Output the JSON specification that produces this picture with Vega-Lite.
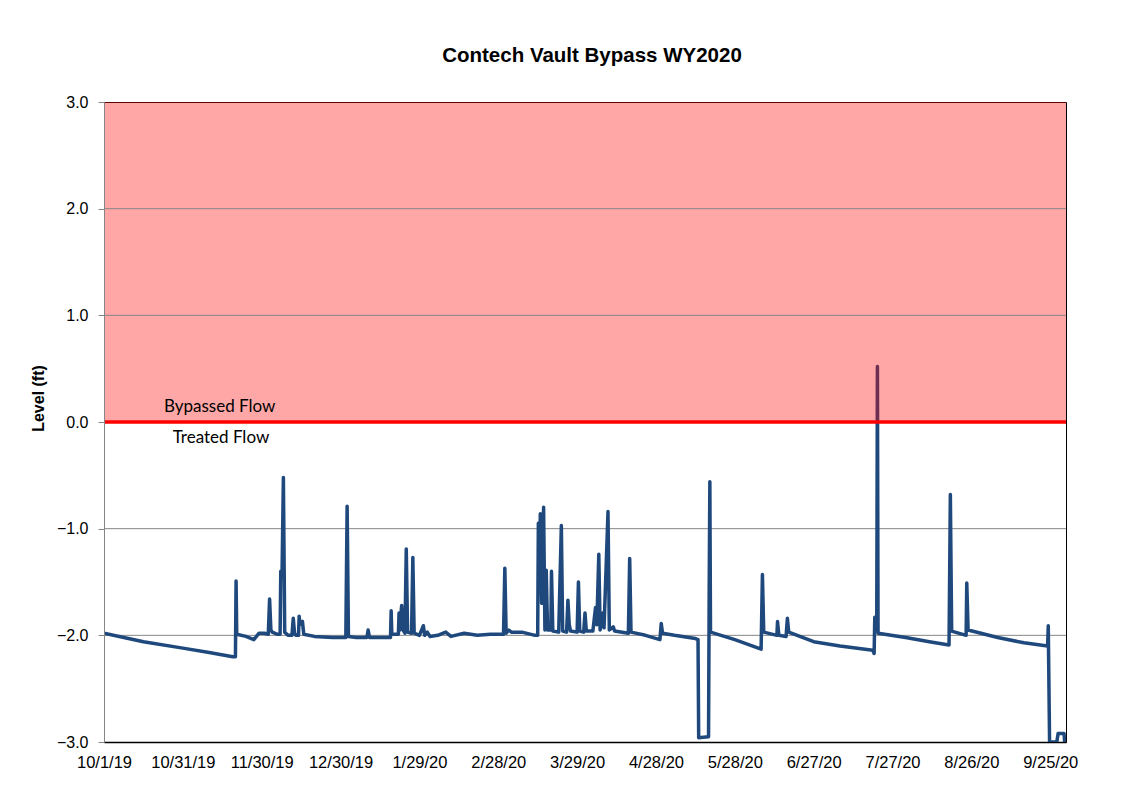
{
  "$schema": "https://vega.github.io/schema/vega-lite/v6.json",
  "width": 962,
  "height": 640,
  "autosize": "none",
  "padding": {"left": 104, "top": 102, "right": 79, "bottom": 45},
  "background": "white",
  "config": {
    "view": {"stroke": "black", "strokeWidth": 1},
    "font": "Liberation Sans"
  },
  "title": {
    "text": "Contech Vault Bypass WY2020",
    "font": "Liberation Sans",
    "fontSize": 20.5,
    "fontWeight": "bold",
    "color": "black",
    "anchor": "middle",
    "dx": 7,
    "offset": 28
  },
  "datasets": {
    "zone": [{"lo": 0, "hi": 3}],
    "gridlow": [{"g": -2}, {"g": -1}],
    "gridhigh": [{"g": 1}, {"g": 2}],
    "zero": [{"z": 0}],
    "labels": [
      {"d": "2019-11-14T00:00", "v": 0.14, "t": "Bypassed Flow"},
      {"d": "2019-11-14T12:00", "v": -0.15, "t": "Treated Flow"}
    ],
    "level": [
      {"d": "2019-10-01T00:00", "v": -1.98},
      {"d": "2019-10-16T00:00", "v": -2.06},
      {"d": "2019-10-31T00:00", "v": -2.12},
      {"d": "2019-11-10T00:00", "v": -2.16},
      {"d": "2019-11-19T00:00", "v": -2.2},
      {"d": "2019-11-20T00:00", "v": -2.2},
      {"d": "2019-11-20T06:00", "v": -1.49},
      {"d": "2019-11-20T12:00", "v": -1.99},
      {"d": "2019-11-24T00:00", "v": -2.01},
      {"d": "2019-11-27T00:00", "v": -2.04},
      {"d": "2019-11-28T00:00", "v": -2.01},
      {"d": "2019-11-29T00:00", "v": -1.98},
      {"d": "2019-12-01T00:00", "v": -1.98},
      {"d": "2019-12-02T12:00", "v": -1.99},
      {"d": "2019-12-03T00:00", "v": -1.66},
      {"d": "2019-12-03T12:00", "v": -1.95},
      {"d": "2019-12-04T00:00", "v": -1.97},
      {"d": "2019-12-06T00:00", "v": -1.99},
      {"d": "2019-12-07T00:00", "v": -1.99},
      {"d": "2019-12-07T06:00", "v": -1.4},
      {"d": "2019-12-07T18:00", "v": -1.4},
      {"d": "2019-12-08T06:00", "v": -0.52},
      {"d": "2019-12-08T18:00", "v": -1.97},
      {"d": "2019-12-10T00:00", "v": -2.0},
      {"d": "2019-12-11T12:00", "v": -2.0},
      {"d": "2019-12-12T00:00", "v": -1.84},
      {"d": "2019-12-12T12:00", "v": -1.98},
      {"d": "2019-12-13T00:00", "v": -2.0},
      {"d": "2019-12-14T00:00", "v": -2.0},
      {"d": "2019-12-14T06:00", "v": -1.82},
      {"d": "2019-12-14T12:00", "v": -1.9},
      {"d": "2019-12-15T12:00", "v": -1.87},
      {"d": "2019-12-16T00:00", "v": -1.99},
      {"d": "2019-12-20T00:00", "v": -2.01},
      {"d": "2019-12-27T00:00", "v": -2.02},
      {"d": "2020-01-01T00:00", "v": -2.02},
      {"d": "2020-01-01T12:00", "v": -0.79},
      {"d": "2020-01-02T00:00", "v": -2.01},
      {"d": "2020-01-05T00:00", "v": -2.02},
      {"d": "2020-01-09T00:00", "v": -2.02},
      {"d": "2020-01-09T12:00", "v": -1.95},
      {"d": "2020-01-10T00:00", "v": -2.02},
      {"d": "2020-01-18T00:00", "v": -2.02},
      {"d": "2020-01-18T06:00", "v": -1.77},
      {"d": "2020-01-18T12:00", "v": -1.99},
      {"d": "2020-01-20T00:00", "v": -1.99},
      {"d": "2020-01-21T00:00", "v": -1.99},
      {"d": "2020-01-21T06:00", "v": -1.79},
      {"d": "2020-01-21T12:00", "v": -1.95},
      {"d": "2020-01-22T06:00", "v": -1.72},
      {"d": "2020-01-22T18:00", "v": -1.95},
      {"d": "2020-01-23T12:00", "v": -1.98},
      {"d": "2020-01-24T00:00", "v": -1.19},
      {"d": "2020-01-24T12:00", "v": -1.97},
      {"d": "2020-01-26T00:00", "v": -1.98},
      {"d": "2020-01-26T12:00", "v": -1.27},
      {"d": "2020-01-27T00:00", "v": -1.98},
      {"d": "2020-01-29T00:00", "v": -2.0},
      {"d": "2020-01-30T12:00", "v": -1.91},
      {"d": "2020-01-31T00:00", "v": -2.0},
      {"d": "2020-02-01T00:00", "v": -1.97},
      {"d": "2020-02-02T00:00", "v": -2.01},
      {"d": "2020-02-05T00:00", "v": -2.0},
      {"d": "2020-02-08T00:00", "v": -1.97},
      {"d": "2020-02-10T00:00", "v": -2.01},
      {"d": "2020-02-15T00:00", "v": -1.98},
      {"d": "2020-02-20T00:00", "v": -2.0},
      {"d": "2020-02-25T00:00", "v": -1.99},
      {"d": "2020-03-01T00:00", "v": -1.99},
      {"d": "2020-03-01T12:00", "v": -1.37},
      {"d": "2020-03-02T00:00", "v": -1.98},
      {"d": "2020-03-03T00:00", "v": -1.95},
      {"d": "2020-03-04T00:00", "v": -1.97},
      {"d": "2020-03-08T00:00", "v": -1.97},
      {"d": "2020-03-13T00:00", "v": -2.0},
      {"d": "2020-03-14T00:00", "v": -2.0},
      {"d": "2020-03-14T06:00", "v": -0.95},
      {"d": "2020-03-14T12:00", "v": -1.6},
      {"d": "2020-03-15T00:00", "v": -0.86},
      {"d": "2020-03-15T12:00", "v": -1.7},
      {"d": "2020-03-16T06:00", "v": -0.8},
      {"d": "2020-03-16T18:00", "v": -1.95},
      {"d": "2020-03-17T06:00", "v": -1.39},
      {"d": "2020-03-17T18:00", "v": -1.95},
      {"d": "2020-03-19T00:00", "v": -1.95},
      {"d": "2020-03-19T06:00", "v": -1.4},
      {"d": "2020-03-19T18:00", "v": -1.96},
      {"d": "2020-03-22T00:00", "v": -1.97},
      {"d": "2020-03-23T00:00", "v": -0.97},
      {"d": "2020-03-23T12:00", "v": -1.96},
      {"d": "2020-03-25T00:00", "v": -1.97},
      {"d": "2020-03-25T12:00", "v": -1.67},
      {"d": "2020-03-26T00:00", "v": -1.9},
      {"d": "2020-03-26T12:00", "v": -1.96},
      {"d": "2020-03-29T00:00", "v": -1.97},
      {"d": "2020-03-29T12:00", "v": -1.5},
      {"d": "2020-03-30T00:00", "v": -1.96},
      {"d": "2020-03-31T12:00", "v": -1.97},
      {"d": "2020-04-01T00:00", "v": -1.79},
      {"d": "2020-04-01T12:00", "v": -1.96},
      {"d": "2020-04-04T00:00", "v": -1.96},
      {"d": "2020-04-05T00:00", "v": -1.74},
      {"d": "2020-04-05T12:00", "v": -1.9},
      {"d": "2020-04-06T06:00", "v": -1.24},
      {"d": "2020-04-06T18:00", "v": -1.95},
      {"d": "2020-04-07T18:00", "v": -1.79},
      {"d": "2020-04-08T06:00", "v": -1.93},
      {"d": "2020-04-09T18:00", "v": -0.84},
      {"d": "2020-04-10T06:00", "v": -1.95},
      {"d": "2020-04-11T18:00", "v": -1.92},
      {"d": "2020-04-12T06:00", "v": -1.96},
      {"d": "2020-04-17T12:00", "v": -1.98},
      {"d": "2020-04-18T00:00", "v": -1.28},
      {"d": "2020-04-18T12:00", "v": -1.97},
      {"d": "2020-04-24T00:00", "v": -2.0},
      {"d": "2020-04-29T12:00", "v": -2.04},
      {"d": "2020-04-30T00:00", "v": -1.89},
      {"d": "2020-04-30T12:00", "v": -1.98},
      {"d": "2020-05-05T00:00", "v": -2.0},
      {"d": "2020-05-13T00:00", "v": -2.03},
      {"d": "2020-05-14T00:00", "v": -2.04},
      {"d": "2020-05-14T06:00", "v": -2.96},
      {"d": "2020-05-18T00:00", "v": -2.95},
      {"d": "2020-05-18T06:00", "v": -1.57},
      {"d": "2020-05-18T12:00", "v": -0.56},
      {"d": "2020-05-18T18:00", "v": -1.97},
      {"d": "2020-05-28T00:00", "v": -2.04},
      {"d": "2020-06-07T00:00", "v": -2.13},
      {"d": "2020-06-07T12:00", "v": -1.43},
      {"d": "2020-06-08T00:00", "v": -1.97},
      {"d": "2020-06-13T00:00", "v": -2.0},
      {"d": "2020-06-13T06:00", "v": -1.87},
      {"d": "2020-06-13T18:00", "v": -2.0},
      {"d": "2020-06-16T12:00", "v": -2.01},
      {"d": "2020-06-17T00:00", "v": -1.84},
      {"d": "2020-06-17T12:00", "v": -1.97},
      {"d": "2020-06-27T00:00", "v": -2.06},
      {"d": "2020-07-07T00:00", "v": -2.1},
      {"d": "2020-07-19T12:00", "v": -2.14},
      {"d": "2020-07-20T00:00", "v": -2.17},
      {"d": "2020-07-20T06:00", "v": -1.83},
      {"d": "2020-07-21T00:00", "v": -1.85},
      {"d": "2020-07-21T06:00", "v": 0.52},
      {"d": "2020-07-21T12:00", "v": -1.98},
      {"d": "2020-08-01T00:00", "v": -2.02},
      {"d": "2020-08-10T00:00", "v": -2.06},
      {"d": "2020-08-17T12:00", "v": -2.09},
      {"d": "2020-08-18T00:00", "v": -0.68},
      {"d": "2020-08-18T12:00", "v": -1.96},
      {"d": "2020-08-24T00:00", "v": -2.0},
      {"d": "2020-08-24T06:00", "v": -1.51},
      {"d": "2020-08-24T18:00", "v": -1.95},
      {"d": "2020-09-05T00:00", "v": -2.02},
      {"d": "2020-09-15T00:00", "v": -2.07},
      {"d": "2020-09-24T00:00", "v": -2.1},
      {"d": "2020-09-24T06:00", "v": -1.91},
      {"d": "2020-09-24T18:00", "v": -3.0},
      {"d": "2020-09-27T12:00", "v": -3.0},
      {"d": "2020-09-28T00:00", "v": -2.92},
      {"d": "2020-09-30T06:00", "v": -2.92},
      {"d": "2020-09-30T12:00", "v": -3.0}
    ]
  },
  "layer": [
    {
      "data": {"name": "gridlow"},
      "mark": {"type": "rule", "color": "#868686", "strokeWidth": 1},
      "encoding": {
        "y": {"field": "g", "type": "quantitative", "scale": {"domain": [-3, 3], "nice": false, "zero": false}}
      }
    },
    {
      "data": {"name": "level"},
      "mark": {"type": "line", "color": "#1F497D", "strokeWidth": 3.5, "clip": true, "strokeJoin": "round", "strokeCap": "round"},
      "encoding": {
        "x": {
          "field": "d",
          "type": "temporal",
          "scale": {"domain": [{"year": 2019, "month": 10, "date": 1}, {"year": 2020, "month": 10, "date": 1}]},
          "axis": {
            "title": null,
            "values": [
              {"year": 2019, "month": 10, "date": 1},
              {"year": 2019, "month": 10, "date": 31},
              {"year": 2019, "month": 11, "date": 30},
              {"year": 2019, "month": 12, "date": 30},
              {"year": 2020, "month": 1, "date": 29},
              {"year": 2020, "month": 2, "date": 28},
              {"year": 2020, "month": 3, "date": 29},
              {"year": 2020, "month": 4, "date": 28},
              {"year": 2020, "month": 5, "date": 28},
              {"year": 2020, "month": 6, "date": 27},
              {"year": 2020, "month": 7, "date": 27},
              {"year": 2020, "month": 8, "date": 26},
              {"year": 2020, "month": 9, "date": 25}
            ],
            "format": "%-m/%-d/%y",
            "grid": false,
            "ticks": false,
            "domainColor": "black",
            "domainWidth": 1.5,
            "labelFont": "Liberation Sans",
            "labelFontSize": 16.5,
            "labelColor": "black",
            "labelPadding": 12,
            "labelFlush": false,
            "labelOverlap": false,
            "labelBound": false
          }
        },
        "y": {
          "field": "v",
          "type": "quantitative",
          "scale": {"domain": [-3, 3], "nice": false, "zero": false},
          "axis": {
            "title": "Level (ft)",
            "values": [-3, -2, -1, 0, 1, 2, 3],
            "format": ".1f",
            "grid": false,
            "tickColor": "#868686",
            "tickSize": 6,
            "domainColor": "#868686",
            "labelFont": "Liberation Sans",
            "labelFontSize": 16,
            "labelColor": "black",
            "labelPadding": 10,
            "labelFlush": false,
            "labelOverlap": false,
            "titleFont": "Liberation Sans",
            "titleFontSize": 16,
            "titleFontWeight": "bold",
            "titleColor": "black",
            "titleX": -66,
            "titleY": 296,
            "titleAngle": -90,
            "titleAlign": "center",
            "titleBaseline": "middle",
            "zindex": 1
          }
        }
      }
    },
    {
      "data": {"name": "zone"},
      "mark": {"type": "rect", "color": "#FF0000", "opacity": 0.345},
      "encoding": {
        "y": {"field": "hi", "type": "quantitative"},
        "y2": {"field": "lo"}
      }
    },
    {
      "data": {"name": "gridhigh"},
      "mark": {"type": "rule", "color": "#868686", "strokeWidth": 1},
      "encoding": {
        "y": {"field": "g", "type": "quantitative"}
      }
    },
    {
      "data": {"name": "zero"},
      "mark": {"type": "rule", "color": "#FF0000", "strokeWidth": 3.5},
      "encoding": {
        "y": {"field": "z", "type": "quantitative"}
      }
    },
    {
      "data": {"name": "labels"},
      "mark": {"type": "text", "font": "Lato", "fontSize": 17, "color": "black", "align": "center", "baseline": "middle"},
      "encoding": {
        "x": {"field": "d", "type": "temporal"},
        "y": {"field": "v", "type": "quantitative"},
        "text": {"field": "t"}
      }
    }
  ]
}
